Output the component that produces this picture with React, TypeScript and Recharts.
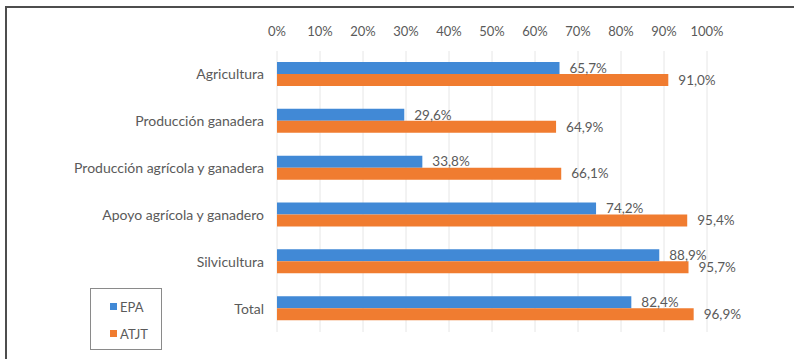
import React from 'react';
import {
  BarChart,
  Bar,
  XAxis,
  YAxis,
  CartesianGrid,
  Legend,
  LabelList
} from 'recharts';

const categories = [
  'Agricultura',
  'Producción ganadera',
  'Producción agrícola y ganadera',
  'Apoyo agrícola y ganadero',
  'Silvicultura',
  'Total'
];
const seriesNames = ['EPA', 'ATJT'];
const epaValues = [65.7, 29.6, 33.8, 74.2, 88.9, 82.4];
const atjtValues = [91.0, 64.9, 66.1, 95.4, 95.7, 96.9];
const xTicks = [0, 10, 20, 30, 40, 50, 60, 70, 80, 90, 100];

const BLUE = '#4189D6';
const ORANGE = '#F07C30';
const TEXT = '#5a5a5a';
const FONT = 'Lato, "Open Sans", sans-serif';

const data = categories.map((name, i) => ({
  name,
  EPA: epaValues[i],
  ATJT: atjtValues[i]
}));

const fmt = (v: any) => `${Number(v).toFixed(1).replace('.', ',')}%`;

// leyenda con recuadro, como en el original
const LegendBox = ({ payload }: any) => {
  const items = [...(payload || [])].sort(
    (a: any, b: any) => seriesNames.indexOf(a.value) - seriesNames.indexOf(b.value)
  );
  return (
    <div
      style={{
        width: 72,
        height: 62,
        border: '1px solid #8a8a8a',
        boxSizing: 'border-box',
        paddingTop: 4,
        paddingLeft: 19,
        fontFamily: FONT,
        fontSize: 13,
        color: TEXT
      }}
    >
      {items.map((p: any) => (
        <div key={p.value} style={{ display: 'flex', alignItems: 'center', height: 27 }}>
          <span style={{ width: 7, height: 7, background: p.color, marginRight: 3 }} />
          {p.value}
        </div>
      ))}
    </div>
  );
};

const App: React.FC = () => {
  return (
    <div
      style={{
        position: 'absolute',
        left: 0,
        top: 0,
        width: 794,
        height: 359,
        background: '#fff',
        overflow: 'hidden'
      }}
    >
      {/* marco */}
      <div
        style={{
          position: 'absolute',
          left: 5,
          top: 6,
          width: 789,
          height: 353,
          borderTop: '2px solid #4d4d4d',
          borderLeft: '2px solid #4d4d4d',
          boxSizing: 'border-box'
        }}
      />
      <BarChart
        width={794}
        height={359}
        data={data}
        layout="vertical"
        margin={{ top: 21, right: 87, bottom: 27, left: 0 }}
        barGap={0}
        barSize={12}
        style={{ position: 'absolute', left: 0, top: 0 }}
      >
        <CartesianGrid horizontal={false} stroke="#e6e6e6" />
        <XAxis
          type="number"
          orientation="top"
          domain={[0, 100]}
          ticks={xTicks}
          tickFormatter={(v) => `${v}%`}
          axisLine={false}
          tickLine={false}
          tickSize={0}
          tickMargin={15}
          height={30}
          tick={{ fill: TEXT, fontSize: 13, fontFamily: FONT }}
        />
        <YAxis
          type="category"
          dataKey="name"
          width={277}
          axisLine={false}
          tickLine={false}
          tickSize={0}
          tickMargin={13}
          interval={0}
          tick={{ fill: TEXT, fontSize: 14, fontFamily: FONT }}
        />
        <Legend
          layout="vertical"
          verticalAlign="middle"
          align="center"
          content={<LegendBox />}
          wrapperStyle={{ left: 90, top: 288, width: 72 }}
        />
        <Bar dataKey="EPA" fill={BLUE} isAnimationActive={false}>
          <LabelList
            dataKey="EPA"
            position="right"
            offset={10}
            formatter={fmt}
            style={{ fill: TEXT, fontSize: 13.5, fontFamily: FONT }}
          />
        </Bar>
        <Bar dataKey="ATJT" fill={ORANGE} isAnimationActive={false}>
          <LabelList
            dataKey="ATJT"
            position="right"
            offset={10}
            formatter={fmt}
            style={{ fill: TEXT, fontSize: 13.5, fontFamily: FONT }}
          />
        </Bar>
      </BarChart>
    </div>
  );
};

export default App;
